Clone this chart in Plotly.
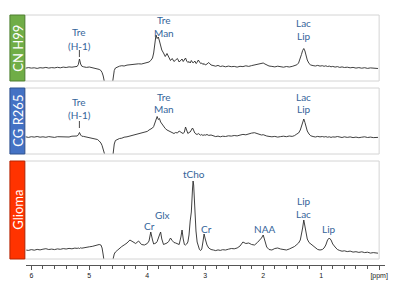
import plotly.graph_objects as go

W, H = 400, 287


def px(x):
    return x / W


def py(y):
    return 1 - y / H


# ---------------- data (chemical shift in ppm, intensity a.u.) ----------------
ppm = [
    6.10, 6.05, 6.00, 5.95, 5.90, 5.85, 5.80, 5.75, 5.70, 5.65, 5.60, 5.55, 5.50, 5.45, 5.40, 5.35, 5.30, 5.25,
    5.21, 5.19, 5.17, 5.15, 5.13,
    5.10, 5.05, 5.00, 4.95, 4.90, 4.86, 4.83, 4.80, 4.78, 4.76, 4.74, 4.72, 4.68, 4.64, 4.61, 4.59, 4.57, 4.55,
    4.52, 4.48, 4.44, 4.40, 4.35, 4.30, 4.25, 4.20, 4.15, 4.10, 4.05, 4.00,
    3.97, 3.94, 3.91, 3.89, 3.87, 3.85, 3.83, 3.81, 3.79, 3.77, 3.75, 3.72, 3.69, 3.66, 3.63, 3.60, 3.57, 3.54,
    3.51, 3.48, 3.45, 3.42, 3.40, 3.38, 3.36, 3.34, 3.32, 3.30, 3.28, 3.26, 3.24, 3.22, 3.21, 3.20, 3.18, 3.16,
    3.14, 3.12, 3.10, 3.08, 3.06, 3.04, 3.02, 3.00, 2.97, 2.94, 2.90,
    2.86, 2.82, 2.78, 2.74, 2.70,
    2.65, 2.60, 2.55, 2.50, 2.45, 2.40, 2.35, 2.30, 2.25, 2.20, 2.15, 2.10,
    2.06, 2.03, 2.00, 1.97, 1.94, 1.90,
    1.85, 1.80, 1.75, 1.70, 1.65, 1.60, 1.55, 1.50,
    1.46, 1.42, 1.39, 1.36, 1.34, 1.32, 1.30, 1.28, 1.26, 1.24, 1.21, 1.18, 1.14, 1.10, 1.06, 1.02, 0.98,
    0.95, 0.92, 0.89, 0.86, 0.83, 0.80,
    0.76, 0.72, 0.68, 0.64, 0.60,
    0.55, 0.50, 0.45, 0.40, 0.35, 0.30, 0.25, 0.20, 0.15, 0.10, 0.05,
    0.02,
]

cn_h99 = [
    12.8, 13.4, 12.9, 13.2, 12.6, 13.3, 13.0, 13.6, 12.9, 13.4, 13.1, 13.7, 13.2, 13.9, 13.5, 14.1, 13.8, 14.4,
    14.6, 16.5, 22.0, 17.0, 14.8,
    14.2, 13.6, 14.0, 13.3, 13.0, 12.4, 11.6, 10.5, 8.5, 5.0, -1.0, -10.0, -30.0, -30.0, -6.0, 4.0, 10.5, 13.0,
    14.0, 14.8, 15.3, 15.0, 15.9, 16.3, 16.0, 16.8, 17.2, 17.0, 17.8, 18.3,
    19.0, 20.5, 23.0, 28.0, 38.0, 46.0, 42.5, 44.0, 40.0, 34.0, 31.0, 28.0, 24.5, 27.5, 23.0, 20.5, 22.5, 19.5,
    21.0, 22.5, 19.0, 20.5, 22.0, 19.5, 21.0, 23.0, 20.0, 18.5, 19.5, 18.0, 20.5, 19.0, 18.0, 18.5, 20.0, 17.5,
    18.5, 21.0, 19.0, 17.5, 18.0, 16.5, 17.5, 16.0, 17.0, 18.5, 16.0,
    15.5, 14.8, 15.6, 14.5, 15.0,
    14.2, 14.9, 14.3, 14.6, 13.9, 14.7, 14.4, 15.2, 14.6, 15.4, 15.9, 16.3,
    16.8, 17.6, 18.0, 17.0, 15.8, 15.0,
    14.6, 14.1, 14.8, 14.2, 13.8, 14.5, 14.0, 14.6,
    15.3, 16.2, 18.0, 22.0, 26.5, 30.5, 32.5, 30.0, 25.5, 21.0, 17.5, 16.0, 15.4, 15.0, 15.6, 14.9, 15.3,
    14.7, 15.2, 14.5, 14.9, 14.2, 14.6,
    13.9, 14.4, 13.6, 14.1, 13.5,
    13.8, 13.2, 13.6, 12.9, 13.4, 12.8, 13.3, 12.6, 13.1, 12.7, 12.4,
    12.5,
]

cg_r265 = [
    17.2, 16.6, 17.3, 16.9, 17.5, 16.8, 17.2, 16.7, 17.4, 17.0, 16.6, 17.3, 17.1, 17.6, 17.2, 17.0, 17.8, 17.5,
    18.0, 19.2, 21.5, 19.0, 17.8,
    17.6, 17.0, 16.5, 16.2, 15.5, 14.5, 13.0, 11.0, 8.5, 5.0, 0.5, -8.0, -30.0, -30.0, -10.0, 2.0, 10.0, 13.5,
    14.5, 15.5, 15.8, 16.8, 17.2, 17.9, 18.5, 19.4, 20.0, 21.2, 22.0, 22.6,
    24.0, 24.8, 26.0, 27.5, 31.0, 36.0, 37.5, 34.5, 35.5, 32.0, 30.0, 28.5, 25.5, 24.0, 23.0, 22.0, 21.5, 20.5,
    21.5, 21.0, 23.0, 21.5, 21.0, 20.5, 22.0, 27.0, 22.5, 20.5, 21.5, 22.0, 24.0, 26.0, 25.0, 23.0, 21.0, 20.0,
    19.5, 20.5, 19.5, 18.8, 19.5, 18.5, 19.2, 18.8, 19.5, 18.6, 19.0,
    18.0, 17.4, 17.9, 17.2, 17.8,
    17.5, 18.2, 17.9, 18.5, 18.1, 18.9, 19.6, 19.2, 20.4, 20.9, 21.3, 20.2,
    19.6, 19.0, 19.3, 18.5, 18.0, 17.6,
    17.2, 17.6, 16.9, 17.4, 17.8, 17.3, 18.0, 17.6,
    18.4, 20.0, 21.0, 24.0, 28.0, 32.0, 35.0, 31.5, 27.0, 23.0, 20.0, 18.2, 17.5, 17.0, 17.6, 17.1, 17.5,
    17.0, 17.4, 16.8, 17.2, 16.6, 17.1,
    16.9, 17.5, 17.0, 16.5, 17.2,
    16.6, 17.1, 16.4, 16.9, 16.3, 16.8, 17.2, 16.5, 16.9, 16.4, 16.8,
    16.6,
]

glioma = [
    9.0, 8.6, 9.4, 8.8, 9.6, 9.1, 9.8, 10.3, 9.5, 9.9, 9.4, 10.1, 9.7, 10.4, 10.0, 10.6, 10.2, 10.9,
    10.6, 11.0, 10.5, 11.2, 10.8,
    11.3, 11.8, 12.2, 12.6, 13.4, 14.0, 14.5, 14.0, 11.0, 4.0, -8.0, -30.0, -30.0, -30.0, -10.0, 0.0, 5.0, 7.0,
    8.5, 11.0, 12.5, 14.0, 16.0, 19.0, 17.0, 15.5, 18.0, 14.5, 14.0, 15.5,
    18.0, 27.0, 19.0, 15.0, 15.5, 16.0, 17.5, 20.0, 24.0, 27.0, 20.0, 14.5, 15.0, 16.0, 17.5, 21.0, 18.5, 16.5,
    16.0, 15.0, 14.5, 22.0, 29.0, 20.0, 14.5, 14.0, 15.0, 17.0, 24.0, 38.0, 47.0, 70.0, 78.0, 74.0, 48.0, 28.0,
    17.0, 11.5, 9.5, 8.5, 10.0, 17.0, 25.0, 20.0, 14.0, 11.0, 9.5,
    9.0, 8.4, 9.1, 8.6, 9.3,
    9.0, 9.8, 10.5, 10.2, 11.0, 13.0, 17.0, 15.5, 16.0, 14.5, 14.0, 16.5,
    19.0, 21.0, 24.0, 17.0, 12.0, 9.5,
    9.0, 10.5, 11.0, 10.0, 9.5, 9.0, 10.0, 11.0,
    12.5, 14.5, 16.0, 19.0, 24.0, 31.0, 39.0, 33.0, 25.0, 20.0, 16.5, 15.0, 13.5, 11.0, 9.5, 9.0, 9.5,
    11.0, 14.0, 19.0, 21.0, 19.0, 15.0,
    12.0, 9.5, 8.5, 7.8, 8.2,
    7.4, 7.9, 6.9, 7.3, 6.6, 7.2, 6.4, 6.8, 5.9, 6.4, 5.6,
    5.8,
]

panel_names = ["CN H99", "CG R265", "Glioma"]
tick_vals = [6, 5, 4, 3, 2, 1, 0]
tick_text = ["6", "5", "4", "3", "2", "1", "[ppm]"]

# peak labels: (panel, text, x_px, y_px)
labels = [
    (0, "Tre", 80, 32.5), (0, "(H-1)", 80, 46), (0, "Tre", 165, 19.5), (0, "Man", 165, 33),
    (0, "Lac", 306, 23), (0, "Lip", 306, 36.5),
    (1, "Tre", 80, 101.5), (1, "(H-1)", 80, 115), (1, "Tre", 165, 96.5), (1, "Man", 165, 109),
    (1, "Lac", 306, 96.5), (1, "Lip", 306, 109.5),
    (2, "Cr", 151, 226), (2, "Glx", 164, 214.5), (2, "tCho", 195, 174), (2, "Cr", 208, 228.5),
    (2, "NAA", 266, 228.5), (2, "Lip", 306, 201), (2, "Lac", 306, 214), (2, "Lip", 331, 228.5),
]

# ---------------- layout geometry ----------------
boxes = [(15, 81), (88, 154), (161, 259)]
ranges = [[0, 66], [0, 66], [0, 98]]
fills = ["#70AD47", "#4472C4", "#FF3300"]
edges = ["#4E7F31", "#2F528F", "#B52400"]
LEFT, RIGHT = 25, 382
PX_PER_PPM = 58.4

fig = go.Figure()
series = [cn_h99, cg_r265, glioma]
for i, s in enumerate(series):
    fig.add_trace(go.Scatter(
        x=ppm, y=s, mode="lines",
        xaxis="x" if i == 0 else f"x{i+1}", yaxis="y" if i == 0 else f"y{i+1}",
        line=dict(color="#2a2a2a", width=0.9), hoverinfo="skip", showlegend=False,
    ))

layout = dict(
    width=W, height=H, margin=dict(l=0, r=0, t=0, b=0),
    paper_bgcolor="white", plot_bgcolor="rgba(0,0,0,0)", showlegend=False,
)
for i in range(3):
    top, bot = boxes[i]
    sx = "" if i == 0 else str(i + 1)
    if i < 2:
        layout["xaxis" + sx] = dict(
            domain=[px(LEFT), px(RIGHT)], range=[(RIGHT - LEFT) / PX_PER_PPM, 0],
            visible=False, anchor="y" + sx, fixedrange=True,
        )
    else:
        a0, a1 = 26.5, 388
        layout["xaxis" + sx] = dict(
            domain=[px(a0), px(a1)],
            range=[(RIGHT - a0) / PX_PER_PPM, (RIGHT - a1) / PX_PER_PPM],
            anchor="free", position=py(265),
            showline=True, linecolor="#555", linewidth=1,
            ticks="outside", ticklen=4, tickwidth=1, tickcolor="#555",
            tickvals=tick_vals, ticktext=tick_text,
            tickfont=dict(family="Liberation Sans", size=7, color="#1a1a1a"),
            showgrid=False, zeroline=False,
            minor=dict(tick0=0, dtick=0.2, ticks="outside", ticklen=2.5, tickwidth=1,
                       tickcolor="#555", showgrid=False),
        )
    layout["yaxis" + sx] = dict(
        domain=[py(bot), py(top)], range=ranges[i], visible=False,
        anchor="x" + sx, fixedrange=True,
    )

shapes = []
annotations = []
for i in range(3):
    top, bot = boxes[i]
    shapes.append(dict(type="rect", xref="paper", yref="paper",
                       x0=px(LEFT), x1=px(RIGHT), y0=py(bot), y1=py(top),
                       line=dict(color="#d4d4d4", width=1), fillcolor="rgba(0,0,0,0)"))
    shapes.append(dict(type="rect", xref="paper", yref="paper",
                       x0=px(10), x1=px(LEFT), y0=py(bot), y1=py(top),
                       line=dict(color=edges[i], width=1), fillcolor=fills[i]))
    annotations.append(dict(text=panel_names[i], xref="paper", yref="paper",
                            x=px(17.8), y=py((top + bot) / 2), showarrow=False, textangle=-90,
                            xanchor="center", yanchor="middle",
                            font=dict(family="Lato", size=13, color="white")))

# small marker lines under the (H-1) labels
for (y0, y1) in [(50, 57), (121, 128)]:
    shapes.append(dict(type="line", xref="paper", yref="paper",
                       x0=px(80), x1=px(80), y0=py(y1), y1=py(y0),
                       line=dict(color="#4a4a4a", width=1)))

for (p, t, x, y) in labels:
    annotations.append(dict(text=t, xref="paper", yref="paper", x=px(x), y=py(y),
                            showarrow=False, xanchor="center", yanchor="middle",
                            font=dict(family="Lato", size=10, color="#35659a")))

layout["shapes"] = shapes
layout["annotations"] = annotations
fig.update_layout(**layout)
fig.write_html("out.html", config={"displayModeBar": False},
               post_script="document.body.style.margin='0px';document.body.style.overflow='hidden';")
